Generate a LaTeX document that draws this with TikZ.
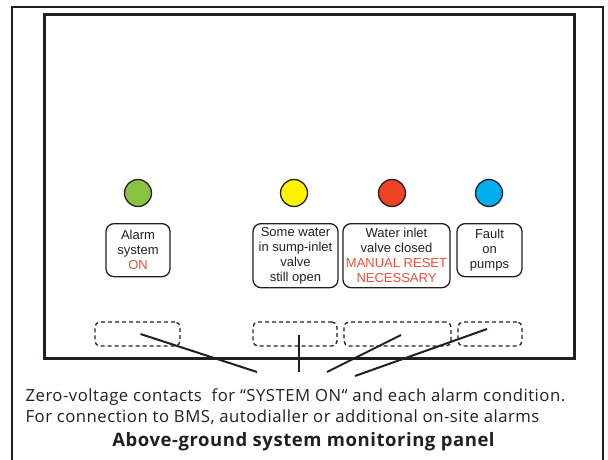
\documentclass[tikz,border=0pt]{standalone}
\usepackage{fontspec}
\setmainfont{Liberation Sans}
\newfontfamily\capfont[LetterSpace=3]{Open Sans}
\usetikzlibrary{positioning}
\definecolor{lgreen}{HTML}{86C440}
\definecolor{lyellow}{HTML}{FFF200}
\definecolor{lred}{HTML}{EF4123}
\definecolor{lblue}{HTML}{00AEEF}
\definecolor{tred}{HTML}{F04E37}
\definecolor{ink}{HTML}{231F20}
\tikzset{
  every picture/.style={line width=1.2pt, x=1pt, y=-1pt},
  lamp/.style={circle, draw=ink, fill=#1, minimum size=27pt, inner sep=0pt, line width=1.3pt},
  legend/.style={draw=ink, text=ink, rounded corners=8pt, align=center, inner sep=0pt, anchor=north,
    font=\fontsize{13}{15}\selectfont, line width=1.3pt},
  contact/.style={draw=ink, dash pattern=on 4pt off 3pt, rounded corners=5pt, minimum height=24pt,
    inner sep=0pt, line width=1.3pt},
  wire/.style={draw=ink, line width=2pt},
  caption/.style={text=ink, inner sep=0pt, font=\capfont\fontsize{16.7}{21}\selectfont},
}

\begin{document}
\begin{tikzpicture}
  \useasboundingbox (0,0) rectangle (608,460);
  % ---------------- frames
  \draw[ink, line width=1.6pt] (12,460) -- (12,7) -- (603,7) -- (603,460);
  \draw[ink, line width=3pt] (44.5,15) rectangle (574.5,358.5);
  % ---------------- lamps and their legends
  \node[lamp=lgreen] (lampon) at (138,193) {};
  \node[lamp=lyellow] (lampsump) at (294,193) {};
  \node[lamp=lred] (lampinlet) at (392,193) {};
  \node[lamp=lblue] (lamppump) at (489,193) {};
  \node[legend, minimum width=64pt, minimum height=53pt] (txton) at (138,223)
    {Alarm\\system\\\textcolor{tred}{ON}};
  \node[legend, minimum width=85pt, minimum height=64pt] (txtsump) at (295.5,223)
    {Some water\\in sump-inlet\\valve\\still open};
  \node[legend, minimum width=107pt, minimum height=64pt] (txtinlet) at (396.5,223)
    {Water inlet\\valve closed\\\textcolor{tred}{MANUAL RESET}\\\textcolor{tred}{NECESSARY}};
  \node[legend, minimum width=65pt, minimum height=53pt] (txtpump) at (489.5,223)
    {Fault\\on\\pumps};
  % ---------------- zero-voltage contacts
  \node[contact, minimum width=85pt] (con1) at (137.5,334) {};
  \node[contact, minimum width=84pt] (con2) at (295,334) {};
  \node[contact, minimum width=107pt] (con3) at (397.5,334) {};
  \node[contact, minimum width=64pt] (con4) at (490,334) {};
  \coordinate (end1) at (257,372);
  \coordinate (end2) at (299,372);
  \coordinate (end3) at (327,372);
  \coordinate (end4) at (355,376);
  \draw[wire] ([shift={(3,0)}]con1.center) -- (end1);
  \draw[wire] ([shift={(4,1)}]con2.center) -- (end2);
  \draw[wire] ([shift={(3.5,1)}]con3.center) -- (end3);
  \draw[wire] ([shift={(-3,-5)}]con4.center) -- (end4);
  % ---------------- caption
  \node[caption, anchor=base west] (note1) at (25,401)
    {Zero-voltage contacts\ \ for “SYSTEM ON“ and each alarm condition.};
  \node[caption, anchor=base west] (note2) at (25,422)
    {For connection to BMS, autodialler or additional on-site alarms};
  \node[caption, anchor=base, font=\capfont\bfseries\fontsize{18.5}{21}\selectfont] (title) at (303.5,446)
    {Above-ground system monitoring panel};
\end{tikzpicture}
\end{document}
